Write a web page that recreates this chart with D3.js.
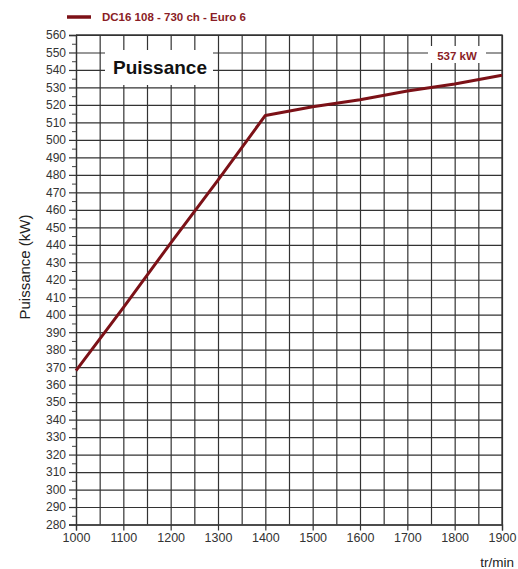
<!DOCTYPE html>
<html>
<head>
<meta charset="utf-8">
<script src="https://cdn.jsdelivr.net/npm/d3@7"></script>
<style>
  body { margin: 0; background: #fff; }
  text { font-family: "Liberation Sans", Arial, sans-serif; }
</style>
</head>
<body>
<div id="chart"></div>
<script>
// values
var rpm = [1000, 1100, 1200, 1300, 1400, 1500, 1600, 1700, 1800, 1900];
var power = [368, 404, 441, 477, 514, 519, 523, 528, 532, 537];
var series_name = 'DC16 108 - 730 ch - Euro 6';
var x_ticks = [1000, 1100, 1200, 1300, 1400, 1500, 1600, 1700, 1800, 1900];
var y_ticks = d3.range(280, 561, 10);

var chart_width = 518;
var chart_height = 569;
var p_left = 76, p_right = 502, p_top = 35, p_bottom = 524.5;
var line_color = '#7c1117';
var grid_color = '#333';

var svg = d3.select('#chart')
            .append('svg')
            .attr('width', chart_width)
            .attr('height', chart_height);

var x_scale = d3.scaleLinear().domain([1000, 1900]).range([p_left, p_right]);
var y_scale = d3.scaleLinear().domain([280, 560]).range([p_bottom, p_top]);

// vertical grid every 50 tr/min
svg.append('g')
    .attr('transform', 'translate(0,' + p_bottom + ')')
    .call(d3.axisBottom(x_scale).tickValues(d3.range(1000, 1901, 50))
        .tickSize(-(p_bottom - p_top)).tickFormat(''))
    .call(g => g.select('.domain').remove())
    .call(g => g.selectAll('line').attr('stroke', grid_color).attr('stroke-width', 1.2));

// horizontal grid every 10 kW
svg.append('g')
    .attr('transform', 'translate(' + p_left + ',0)')
    .call(d3.axisLeft(y_scale).tickValues(y_ticks)
        .tickSize(-(p_right - p_left)).tickFormat(''))
    .call(g => g.select('.domain').remove())
    .call(g => g.selectAll('line').attr('stroke', grid_color).attr('stroke-width', 1.2));

// minor ticks on y axis
svg.append('g')
    .attr('transform', 'translate(' + p_left + ',0)')
    .call(d3.axisLeft(y_scale).tickValues(d3.range(285, 560, 10))
        .tickSize(4).tickFormat(''))
    .call(g => g.select('.domain').remove())
    .call(g => g.selectAll('line').attr('stroke', '#444').attr('stroke-width', 1));

// y axis with labels
svg.append('g')
    .attr('transform', 'translate(' + p_left + ',0)')
    .call(d3.axisLeft(y_scale).tickValues(y_ticks).tickSize(7).tickPadding(3))
    .call(g => g.select('.domain').attr('stroke', grid_color).attr('stroke-width', 1.3))
    .call(g => g.selectAll('line').attr('stroke', grid_color).attr('stroke-width', 1.2))
    .call(g => g.selectAll('text').attr('fill', '#333').attr('font-size', 12)
        .style('font-family', '"Liberation Sans", Arial, sans-serif'));

// x axis with labels
svg.append('g')
    .attr('transform', 'translate(0,' + p_bottom + ')')
    .call(d3.axisBottom(x_scale).tickValues(x_ticks).tickSize(6).tickPadding(3)
        .tickFormat(d3.format('d')))
    .call(g => g.select('.domain').attr('stroke', grid_color).attr('stroke-width', 1.3))
    .call(g => g.selectAll('line').attr('stroke', grid_color).attr('stroke-width', 1.2))
    .call(g => g.selectAll('text').attr('fill', '#333').attr('font-size', 12.5)
        .style('font-family', '"Liberation Sans", Arial, sans-serif'));

// top and right border
svg.append('path')
    .attr('d', 'M' + p_left + ',' + p_top + 'H' + p_right + 'V' + p_bottom)
    .attr('fill', 'none')
    .attr('stroke', grid_color)
    .attr('stroke-width', 1.3);

// title box
svg.append('rect')
    .attr('x', 105).attr('y', 50).attr('width', 108).attr('height', 35)
    .attr('fill', '#fff');
svg.append('text')
    .attr('x', 160).attr('y', 73.5)
    .attr('text-anchor', 'middle')
    .attr('font-size', 19)
    .attr('font-weight', 'bold')
    .attr('fill', '#111')
    .text('Puissance');

// max power label
var last = power[power.length - 1];
svg.append('rect')
    .attr('x', 428).attr('y', 46).attr('width', 58).attr('height', 17)
    .attr('fill', '#fff');
svg.append('text')
    .attr('x', 457).attr('y', 59.5)
    .attr('text-anchor', 'middle')
    .attr('font-size', 11.5)
    .attr('font-weight', 'bold')
    .attr('fill', '#8a1d26')
    .text(last + ' kW');

// the curve
var line = d3.line()
    .x((d, i) => x_scale(rpm[i]))
    .y((d) => y_scale(d));

svg.append('path')
    .datum(power)
    .attr('d', line)
    .attr('fill', 'none')
    .attr('stroke', line_color)
    .attr('stroke-width', 3)
    .attr('stroke-linejoin', 'round');

// legend
svg.append('line')
    .attr('x1', 67).attr('x2', 91).attr('y1', 17).attr('y2', 17)
    .attr('stroke', line_color)
    .attr('stroke-width', 3.5);
svg.append('text')
    .attr('x', 102).attr('y', 20.5)
    .attr('font-size', 11.5)
    .attr('font-weight', 'bold')
    .attr('fill', '#8a1d26')
    .text(series_name);

// axis titles
svg.append('text')
    .attr('transform', 'translate(30,267) rotate(-90)')
    .attr('text-anchor', 'middle')
    .attr('font-size', 15)
    .attr('fill', '#222')
    .text('Puissance (kW)');

svg.append('text')
    .attr('x', 514).attr('y', 567)
    .attr('text-anchor', 'end')
    .attr('font-size', 13.5)
    .attr('fill', '#222')
    .text('tr/min');
</script>
</body>
</html>
